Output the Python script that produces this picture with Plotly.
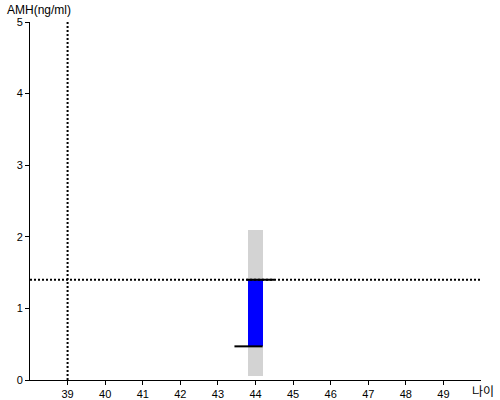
import plotly.graph_objects as go

# data
age = [44]
range_low = [0.05]
range_high = [2.1]
iqr_low = [0.47]
iqr_high = [1.4]
ref_age = 39
ref_amh = 1.4
x_ticks = [39, 40, 41, 42, 43, 44, 45, 46, 47, 48, 49]
y_ticks = [0, 1, 2, 3, 4, 5]

fig = go.Figure()

fig.add_trace(go.Bar(x=age, y=[h - l for h, l in zip(range_high, range_low)], base=range_low,
                     width=0.42, marker=dict(color="#d3d3d3", line=dict(width=0)), showlegend=False))
fig.add_trace(go.Bar(x=age, y=[h - l for h, l in zip(iqr_high, iqr_low)], base=iqr_low,
                     width=0.42, marker=dict(color="#0000ff", line=dict(width=0)), showlegend=False))

# reference dotted lines
fig.add_trace(go.Scatter(x=[ref_age, ref_age], y=[0, 5], mode="lines",
                         line=dict(color="black", width=2, dash="2px,2px"), showlegend=False))
fig.add_trace(go.Scatter(x=[38, 50], y=[ref_amh, ref_amh], mode="lines",
                         line=dict(color="black", width=2, dash="2px,2px"), showlegend=False))

# median / whisker markers
a = age[0]
fig.add_trace(go.Scatter(x=[a - 0.24, a + 0.5], y=[iqr_high[0], iqr_high[0]], mode="lines",
                         line=dict(color="black", width=2), showlegend=False))
fig.add_trace(go.Scatter(x=[a - 0.56, a + 0.19], y=[iqr_low[0], iqr_low[0]], mode="lines",
                         line=dict(color="black", width=2), showlegend=False))

fig.update_layout(
    width=500, height=400,
    margin=dict(l=30, r=19, t=22, b=20, autoexpand=False),
    plot_bgcolor="white", paper_bgcolor="white",
    font=dict(family="Liberation Sans, Arial", size=11, color="black"),
    bargap=0, barmode="overlay",
    xaxis=dict(range=[38, 50], tickvals=x_ticks, showgrid=False, zeroline=False,
               showline=True, linecolor="black", linewidth=1, automargin=False,
               ticks="outside", ticklen=4, tickcolor="black"),
    yaxis=dict(range=[0, 5], tickvals=y_ticks, showgrid=False, zeroline=False,
               showline=True, linecolor="black", linewidth=1, automargin=False,
               ticks="outside", ticklen=4, tickcolor="black"),
    annotations=[
        dict(text="AMH(ng/ml)", xref="paper", yref="paper", x=0, y=1.0, xshift=-25, yshift=12,
             xanchor="left", yanchor="middle", showarrow=False,
             font=dict(family="Liberation Sans, Arial", size=12, color="black")),
        dict(text="나이", xref="paper", yref="paper", x=1.0, y=0, xshift=14, yshift=-10,
             xanchor="right", yanchor="middle", showarrow=False, borderpad=0,
             font=dict(family="Noto Sans CJK KR", size=12, color="black")),
    ],
)

fig.write_html("out.html", config={"displayModeBar": False},
               post_script="document.body.style.margin='0';")
